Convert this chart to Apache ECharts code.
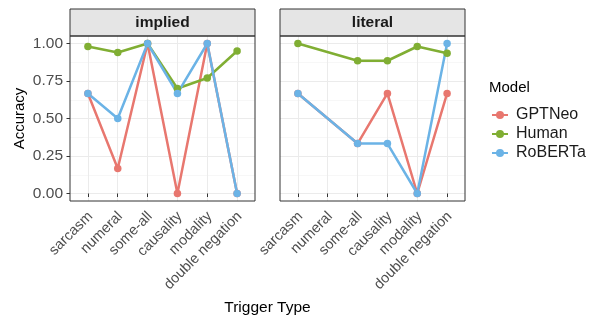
<!DOCTYPE html>
<html>
<head>
<meta charset="utf-8">
<script src="https://cdn.jsdelivr.net/npm/echarts@6/dist/echarts.min.js"></script>
<style>
html,body{margin:0;padding:0;background:#fff;}
#chart{width:590px;height:321px;}
</style>
</head>
<body>
<div id="chart"></div>
<script>
// ---- data ----
const categories = ['sarcasm','numeral','some-all','causality','modality','double negation'];
const facets = ['implied','literal'];
const models = ['GPTNeo','Human','RoBERTa'];
const yTicks = [0, 0.25, 0.5, 0.75, 1.0];
const yMinorTicks = [0.125, 0.375, 0.625, 0.875];

const impliedGPTNeo  = [0.667, 0.167, 1.0, 0.0, 1.0, 0.0];
const impliedHuman   = [0.98, 0.94, 1.0, 0.70, 0.77, 0.95];
const impliedRoBERTa = [0.667, 0.5, 1.0, 0.667, 1.0, 0.0];

const literalGPTNeo  = [0.667, null, 0.333, 0.667, 0.0, 0.667];
const literalHuman   = [1.0, null, 0.885, 0.885, 0.98, 0.935];
const literalRoBERTa = [0.667, null, 0.333, 0.333, 0.0, 1.0];

const colors = {GPTNeo:'#E8776F', Human:'#80AE33', RoBERTa:'#6BB3E6'};

const panelData = [
  {GPTNeo: impliedGPTNeo, Human: impliedHuman, RoBERTa: impliedRoBERTa},
  {GPTNeo: literalGPTNeo, Human: literalHuman, RoBERTa: literalRoBERTa}
];

// ---- layout ----
const panels = [{left:70, width:185}, {left:280, width:185}];
const panelTop = 36, panelH = 165, stripH = 27;
const axisColor = '#4D4D4D';
const fontFamily = '"Liberation Sans", Arial, Helvetica, sans-serif';
const fs = 15.5;
const catPos = categories.map((c,i)=>i+1);

const grids = [], xAxes = [], yAxes = [], series = [], graphics = [];
panels.forEach((p, pi) => {
  grids.push({left:p.left, top:panelTop, width:p.width, height:panelH, containLabel:false});
  xAxes.push({
    type:'value', gridIndex:pi, min:0.4, max:6.6,
    axisLine:{show:false},
    axisTick:{show:true, length:3.5, lineStyle:{color:'#333', width:1}, customValues:catPos},
    axisLabel:{show:true, customValues:catPos, rotate:45, margin:5, verticalAlign:'top',
      padding:[0,4,0,0],
      color:axisColor, fontSize:14.5, fontFamily:fontFamily,
      formatter:(v)=>categories[Math.round(v)-1] || ''},
    splitLine:{show:true, lineStyle:{color:'#EBEBEB', width:1}},
    minorSplitLine:{show:false}
  });
  yAxes.push({
    type:'value', gridIndex:pi, min:-0.05, max:1.05,
    axisLine:{show:false},
    axisTick:{show:pi===0, length:3.5, lineStyle:{color:'#333', width:1}, customValues:yTicks},
    axisLabel:{show:pi===0, customValues:yTicks, margin:7, color:axisColor, fontSize:fs,
      fontFamily:fontFamily, formatter:(v)=>v.toFixed(2)},
    splitLine:{show:true, lineStyle:{color:'#EBEBEB', width:1}}
  });
  // minor horizontal gridlines
  yAxes.push({
    type:'value', gridIndex:pi, min:-0.05, max:1.05,
    axisLine:{show:false},
    axisTick:{show:false, customValues:yMinorTicks},
    axisLabel:{show:false, customValues:yMinorTicks},
    splitLine:{show:true, lineStyle:{color:'#F2F2F2', width:0.6}}
  });
  models.forEach(m => {
    series.push({
      name:m, type:'line', xAxisIndex:pi, yAxisIndex:pi*2,
      data: panelData[pi][m].map((v,i)=> v===null ? [i+1, null] : [i+1, v]),
      connectNulls:true,
      symbol:'circle', symbolSize:7.5,
      lineStyle:{width:2.5, color:colors[m]},
      itemStyle:{color:colors[m]},
      emphasis:{disabled:true},
      animation:false, z:3
    });
  });
  // strip
  graphics.push({type:'rect', shape:{x:p.left, y:panelTop-stripH, width:p.width, height:stripH},
    style:{fill:'#E5E5E5', stroke:'#333', lineWidth:1}, z:10});
  graphics.push({type:'text', x:p.left + p.width/2, y:panelTop - stripH/2,
    style:{text:facets[pi], fill:'#1A1A1A', font:'bold ' + fs + 'px ' + fontFamily,
      textAlign:'center', textVerticalAlign:'middle'}, z:11});
  // panel border
  graphics.push({type:'rect', shape:{x:p.left, y:panelTop, width:p.width, height:panelH},
    style:{fill:'none', stroke:'#333', lineWidth:1}, z:10});
});

graphics.push({type:'text', x:267.5, y:308,
  style:{text:'Trigger Type', fill:'#000', font:fs + 'px ' + fontFamily,
    textAlign:'center', textVerticalAlign:'middle'}});
graphics.push({type:'text', x:20, y:118.5, rotation:Math.PI/2,
  style:{text:'Accuracy', fill:'#000', font:'15px ' + fontFamily,
    textAlign:'center', textVerticalAlign:'middle'}});
graphics.push({type:'text', x:489, y:88,
  style:{text:'Model', fill:'#000', font:'15px ' + fontFamily,
    textAlign:'left', textVerticalAlign:'middle'}});

const chart = echarts.init(document.getElementById('chart'), null, {renderer:'canvas'});
chart.setOption({
  animation:false,
  backgroundColor:'#fff',
  textStyle:{fontFamily:fontFamily},
  grid:grids, xAxis:xAxes, yAxis:yAxes, series:series,
  legend:{
    data:models, orient:'vertical', left:486, top:102,
    itemWidth:16, itemHeight:10, itemGap:3,
    textStyle:{fontSize:16, color:'#1A1A1A', fontFamily:fontFamily, padding:[0,0,0,3]},
    selectedMode:false
  },
  graphic:graphics
});
</script>
</body>
</html>
